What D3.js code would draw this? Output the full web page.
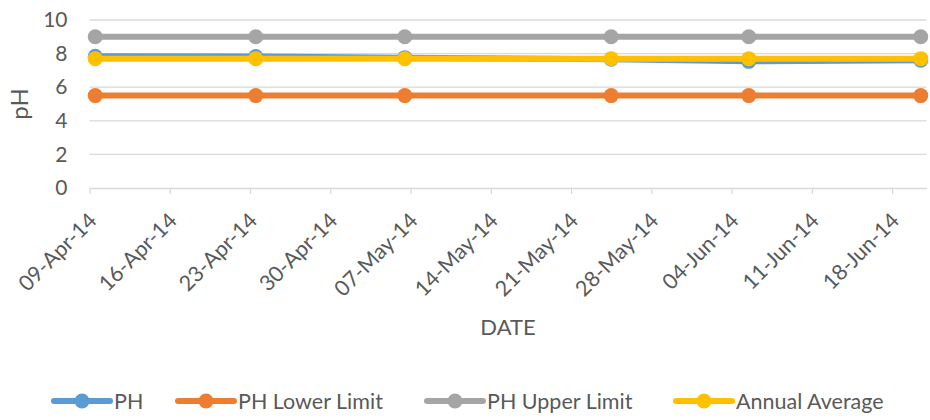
<!DOCTYPE html>
<html>
<head>
<meta charset="utf-8">
<script src="https://cdn.jsdelivr.net/npm/d3@7"></script>
<style>
  html, body { margin: 0; padding: 0; background: #fff; }
  svg { display: block; font-family: Lato, "Liberation Sans", sans-serif; }
</style>
</head>
<body>
<svg id="chart" width="930" height="420"></svg>
<script>
// Sampling dates and measured values
const sampleDates = ["09-Apr-14", "23-Apr-14", "06-May-14", "24-May-14", "05-Jun-14", "20-Jun-14"];
const phValues = [7.84, 7.82, 7.76, 7.66, 7.54, 7.6];
const lowerLimit = [5.5, 5.5, 5.5, 5.5, 5.5, 5.5];
const upperLimit = [9, 9, 9, 9, 9, 9];
const annualAverage = [7.7, 7.7, 7.7, 7.7, 7.7, 7.7];

const seriesNames = ["PH", "PH Lower Limit", "PH Upper Limit", "Annual Average"];
const seriesColors = ["#5B9BD5", "#ED7D31", "#A5A5A5", "#FFC000"];

const xTickLabels = ["09-Apr-14", "16-Apr-14", "23-Apr-14", "30-Apr-14", "07-May-14",
  "14-May-14", "21-May-14", "28-May-14", "04-Jun-14", "11-Jun-14", "18-Jun-14"];
const xDomainLabels = ["09-Apr-14", "21-Jun-14"];
const yTicks = [0, 2, 4, 6, 8, 10];

const parse = d3.utcParse("%d-%b-%y");
const fmt = d3.utcFormat("%d-%b-%y");

const svg = d3.select("#chart");
const plot = { left: 89.5, right: 926.5, top: 20, bottom: 188 };

const x = d3.scaleUtc()
  .domain(xDomainLabels.map(parse))
  .range([plot.left, plot.right]);
const y = d3.scaleLinear().domain([0, 10]).range([plot.bottom, plot.top]);

// each date occupies a one-day slot; values sit in the middle of it
const midDay = d => d3.utcHour.offset(parse(d), 12);

// horizontal gridlines
svg.append("g")
  .selectAll("line")
  .data(yTicks.filter(t => t > 0))
  .join("line")
  .attr("x1", plot.left).attr("x2", plot.right)
  .attr("y1", d => y(d)).attr("y2", d => y(d))
  .attr("stroke", "#d9d9d9").attr("stroke-width", 1.3);

// y axis labels
const yAxis = d3.axisLeft(y).tickValues(yTicks).tickSize(0).tickPadding(0);
svg.append("g")
  .attr("transform", `translate(${plot.left - 22},0)`)
  .call(yAxis)
  .call(g => g.select(".domain").remove())
  .call(g => g.selectAll("text")
    .attr("fill", "#595959")
    .style("font-size", "21px")
    .style("font-family", "Lato, 'Liberation Sans', sans-serif"));

// x axis with weekly ticks
const xAxis = d3.axisBottom(x)
  .tickValues(xTickLabels.map(parse))
  .tickFormat(fmt)
  .tickSizeInner(6).tickSizeOuter(0).tickPadding(0);
svg.append("g")
  .attr("transform", `translate(0,${plot.bottom})`)
  .call(xAxis)
  .call(g => g.select(".domain").attr("stroke", "#d9d9d9").attr("stroke-width", 1.3))
  .call(g => g.selectAll(".tick line").attr("stroke", "#d9d9d9").attr("stroke-width", 1.3))
  .call(g => g.selectAll("text")
    .attr("fill", "#595959")
    .style("font-size", "21.5px")
    .style("font-family", "Lato, 'Liberation Sans', sans-serif")
    .attr("text-anchor", "end")
    .attr("dy", 0)
    .attr("y", 0)
    .attr("transform", "translate(8,34) rotate(-45)"));

// axis titles
svg.append("text")
  .attr("x", (plot.left + plot.right) / 2)
  .attr("y", 335)
  .attr("text-anchor", "middle")
  .attr("fill", "#595959")
  .style("font-size", "22px")
  .text("DATE");

svg.append("text")
  .attr("transform", `translate(28,${(plot.top + plot.bottom) / 2}) rotate(-90)`)
  .attr("text-anchor", "middle")
  .attr("fill", "#595959")
  .style("font-size", "24px")
  .text("pH");

// series
const seriesValues = [phValues, lowerLimit, upperLimit, annualAverage];
const line = d3.line()
  .x(d => x(midDay(d.date)))
  .y(d => y(d.value));

seriesValues.forEach((vals, i) => {
  const pts = sampleDates.map((d, j) => ({ date: d, value: vals[j] }));
  const g = svg.append("g");
  g.append("path")
    .datum(pts)
    .attr("d", line)
    .attr("fill", "none")
    .attr("stroke", seriesColors[i])
    .attr("stroke-width", 6)
    .attr("stroke-linejoin", "round")
    .attr("stroke-linecap", "round");
  g.selectAll("circle")
    .data(pts)
    .join("circle")
    .attr("cx", d => x(midDay(d.date)))
    .attr("cy", d => y(d.value))
    .attr("r", 7.5)
    .attr("fill", seriesColors[i]);
});

// legend
const legend = svg.append("g").attr("transform", "translate(0,401)");
const legendStarts = [54, 178, 427, 676];
seriesNames.forEach((name, i) => {
  const g = legend.append("g").attr("transform", `translate(${legendStarts[i]},0)`);
  g.append("line")
    .attr("x1", 0).attr("x2", 56)
    .attr("stroke", seriesColors[i]).attr("stroke-width", 6)
    .attr("stroke-linecap", "round");
  g.append("circle").attr("cx", 28).attr("r", 7.5).attr("fill", seriesColors[i]);
  g.append("text")
    .attr("x", 60).attr("y", 0).attr("dy", "0.35em")
    .attr("fill", "#595959")
    .style("font-size", "21.5px")
    .text(name);
});
</script>
</body>
</html>
